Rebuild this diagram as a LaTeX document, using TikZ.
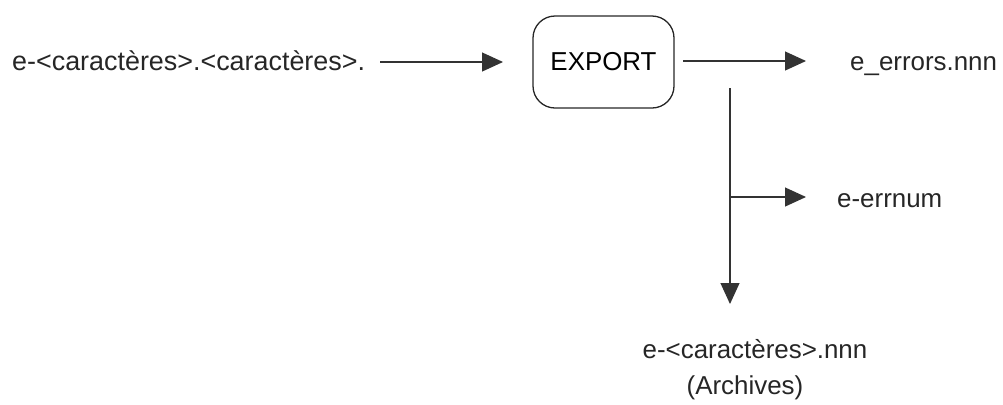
\documentclass[tikz,border=0pt]{standalone}
\usepackage{fontspec}
\setmainfont{Liberation Sans}
\usetikzlibrary{arrows.meta}
\begin{document}
\begin{tikzpicture}[x=1bp,y=-1bp,
  lbl/.style={inner sep=0pt, font=\fontsize{26}{31}\selectfont, text=black!85},
  arr/.style={line width=1.1bp, draw=black!80, -{Triangle[length=21bp,width=19bp]}},
  procbox/.style={draw=black!85, line width=1.3bp, rounded corners=22bp, minimum width=141bp, minimum height=92bp, inner sep=0pt, font=\fontsize{26}{31}\selectfont}]
\useasboundingbox (0,0) rectangle (1003,404);
\node[lbl, anchor=base west, font=\fontsize{27}{32}\selectfont] (src) at (12,70) {e-<caractères>.<caractères>.};
\node[procbox] (export) at (603.5,62) {EXPORT};
\node[lbl, anchor=base west] (err) at (850,70) {e\_errors.nnn};
\node[lbl, anchor=base west] (errnum) at (837,207) {e-errnum};
\node[lbl, anchor=base] (arch) at (755,358) {e-<caractères>.nnn};
\node[lbl, anchor=base] (archb) at (745,394) {(Archives)};
\coordinate (a1) at (380,62);
\coordinate (a2) at (503,62);
\coordinate (b1) at (683,61);
\coordinate (b2) at (806,61);
\coordinate (v1) at (730,88);
\coordinate (v2) at (730,304);
\coordinate (h1) at (730,197);
\coordinate (h2) at (806,197);
\draw[arr] (a1) -- (a2);
\draw[arr] (b1) -- (b2);
\draw[arr] (v1) -- (v2);
\draw[arr] (h1) -- (h2);
\end{tikzpicture}
\end{document}
